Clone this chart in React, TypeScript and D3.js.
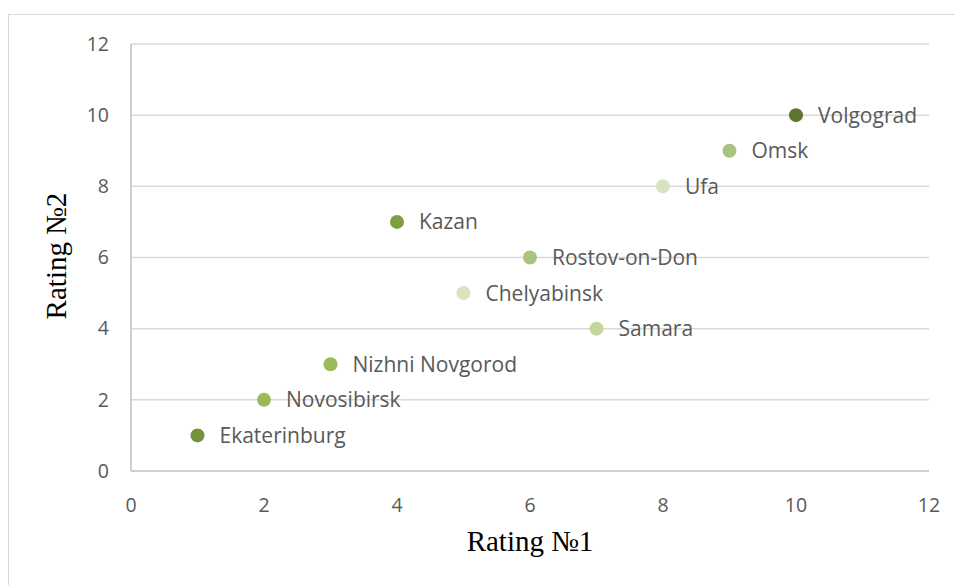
import React, { useEffect, useRef } from "react";
import * as d3 from "d3";

// city names, ratings and marker colours
const cities = [
  "Ekaterinburg",
  "Novosibirsk",
  "Nizhni Novgorod",
  "Kazan",
  "Chelyabinsk",
  "Rostov-on-Don",
  "Samara",
  "Ufa",
  "Omsk",
  "Volgograd",
];
const rating1 = [1, 2, 3, 4, 5, 6, 7, 8, 9, 10];
const rating2 = [1, 2, 3, 7, 5, 6, 4, 8, 9, 10];
const pointColors = [
  "#76923c",
  "#9bbb59",
  "#9bbb59",
  "#7f9e3f",
  "#d7e4bd",
  "#a9c47f",
  "#c3d69b",
  "#d7e4bd",
  "#a9c47f",
  "#5f7530",
];
const tickValues = [0, 2, 4, 6, 8, 10, 12];

const App = () => {
  const ref = useRef<SVGSVGElement>(null);

  useEffect(() => {
    const svg = d3.select(ref.current);
    svg.selectAll("*").remove();

    // chart frame
    svg
      .append("rect")
      .attr("x", 8.5)
      .attr("y", 14.5)
      .attr("width", 960)
      .attr("height", 600)
      .attr("fill", "white")
      .attr("stroke", "#d9d9d9")
      .attr("stroke-width", 1);

    const x = d3.scaleLinear().domain([0, 12]).range([131, 929]);
    const y = d3.scaleLinear().domain([0, 12]).range([471, 44]);

    // horizontal gridlines
    svg
      .append("g")
      .selectAll("line")
      .data(tickValues.filter((d) => d > 0))
      .enter()
      .append("line")
      .attr("x1", x(0))
      .attr("x2", x(12))
      .attr("y1", (d) => y(d))
      .attr("y2", (d) => y(d))
      .attr("stroke", "#d9d9d9")
      .attr("stroke-width", 1.5);

    // axis lines
    svg
      .append("line")
      .attr("x1", x(0))
      .attr("x2", x(0))
      .attr("y1", y(0))
      .attr("y2", y(12))
      .attr("stroke", "#bfbfbf")
      .attr("stroke-width", 1.5);
    svg
      .append("line")
      .attr("x1", x(0))
      .attr("x2", x(12))
      .attr("y1", y(0))
      .attr("y2", y(0))
      .attr("stroke", "#bfbfbf")
      .attr("stroke-width", 1.5);

    const tickFont = "Open Sans, Calibri, sans-serif";
    const titleFont = "Liberation Serif, Times New Roman, serif";

    // y tick labels
    svg
      .append("g")
      .selectAll("text")
      .data(tickValues)
      .enter()
      .append("text")
      .attr("x", 109)
      .attr("y", (d) => y(d))
      .attr("dy", "0.35em")
      .attr("text-anchor", "end")
      .attr("fill", "#595959")
      .style("font-family", tickFont)
      .style("font-size", "19.5px")
      .text((d) => d);

    // x tick labels
    svg
      .append("g")
      .selectAll("text")
      .data(tickValues)
      .enter()
      .append("text")
      .attr("x", (d) => x(d))
      .attr("y", 505)
      .attr("dy", "0.35em")
      .attr("text-anchor", "middle")
      .attr("fill", "#595959")
      .style("font-family", tickFont)
      .style("font-size", "19.5px")
      .text((d) => d);

    // axis titles
    svg
      .append("text")
      .attr("x", 530)
      .attr("y", 551)
      .attr("text-anchor", "middle")
      .attr("fill", "#000")
      .style("font-family", titleFont)
      .style("font-size", "29px")
      .text("Rating №1");
    svg
      .append("text")
      .attr("transform", `translate(66, 256) rotate(-90)`)
      .attr("text-anchor", "middle")
      .attr("fill", "#000")
      .style("font-family", titleFont)
      .style("font-size", "29px")
      .text("Rating №2");

    const data = cities.map((name, i) => ({
      name,
      a: rating1[i],
      b: rating2[i],
      color: pointColors[i],
    }));

    // points
    svg
      .append("g")
      .selectAll("circle")
      .data(data)
      .enter()
      .append("circle")
      .attr("cx", (d) => x(d.a))
      .attr("cy", (d) => y(d.b))
      .attr("r", 7)
      .attr("fill", (d) => d.color);

    // point labels
    svg
      .append("g")
      .selectAll("text")
      .data(data)
      .enter()
      .append("text")
      .attr("x", (d) => x(d.a) + 22)
      .attr("y", (d) => y(d.b))
      .attr("dy", "0.36em")
      .attr("fill", "#595959")
      .style("font-family", tickFont)
      .style("font-size", "21px")
      .text((d) => d.name);
  }, []);

  return (
    <svg
      ref={ref}
      width={955}
      height={585}
      style={{ position: "absolute", left: 0, top: 0, display: "block" }}
    />
  );
};

export default App;
